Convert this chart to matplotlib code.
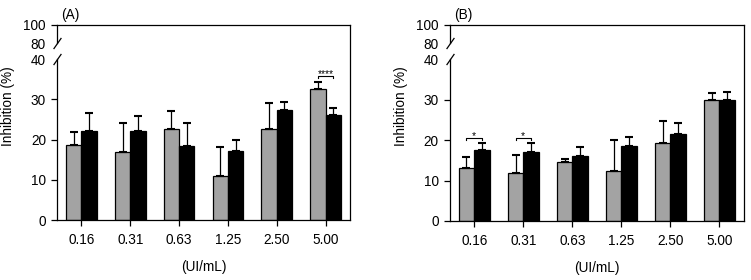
import numpy as np
import matplotlib
matplotlib.use("Agg")
import matplotlib.pyplot as plt
from matplotlib.scale import FuncScale
import matplotlib.transforms as mtransforms

plt.rcParams['font.family'] = ['Liberation Sans', 'DejaVu Sans']

categories = ["0.16", "0.31", "0.63", "1.25", "2.50", "5.00"]

# Panel A
a_gray = [18.7, 16.8, 22.7, 10.9, 22.5, 32.6]
a_gray_err = [3.2, 7.3, 4.3, 7.3, 6.5, 1.7]
a_black = [22.1, 22.1, 18.4, 17.1, 27.3, 26.2]
a_black_err = [4.6, 3.8, 5.8, 2.8, 2.1, 1.7]

# Panel B
b_gray = [13.1, 11.9, 14.6, 12.4, 19.2, 30.0]
b_gray_err = [2.7, 4.3, 0.8, 7.6, 5.4, 1.6]
b_black = [17.5, 17.1, 16.0, 18.5, 21.5, 30.0]
b_black_err = [1.7, 2.1, 2.4, 2.2, 2.7, 2.0]

yticks = [0, 10, 20, 30, 40, 80, 100]
ytick_labels = ["0", "10", "20", "30", "40", "80", "100"]

# piecewise (broken) y scale
brk_in = [0, 40, 80, 100]
brk_out = [0, 40, 43.9, 48.45]

def fwd(y):
    y = np.asarray(y, dtype=float)
    return np.interp(y, brk_in, brk_out, left=-1e3, right=1e3)

def inv(y):
    y = np.asarray(y, dtype=float)
    return np.interp(y, brk_out, brk_in, left=-1e3, right=1e3)

GRAY = "#a3a3a3"
FS = 9.8

fig = plt.figure(figsize=(7.51, 2.8), dpi=100)

def panel(rect, gray, gerr, black, berr, title, sig):
    ax = fig.add_axes(rect)
    ax.set_yscale(FuncScale(ax, (fwd, inv)))
    x = np.arange(len(categories))
    w = 0.315
    n = len(categories)
    ekw = dict(ecolor="black", elinewidth=0.9, capsize=2.6, capthick=1.5)
    ax.bar(x - w / 2, gray, w, color=GRAY, edgecolor="black", linewidth=0.9,
           yerr=[[0] * n, gerr], error_kw=ekw, zorder=2)
    ax.bar(x + w / 2, black, w, color="black", edgecolor="black", linewidth=0.9,
           yerr=[[0] * n, berr], error_kw=ekw, zorder=2)
    ax.set_xlim(-0.5, n - 0.5)
    ax.set_ylim(0, 100)
    ax.set_yticks(yticks)
    ax.set_yticklabels(ytick_labels)
    ax.set_xticks(x)
    ax.set_xticklabels(categories)
    ax.tick_params(axis='both', direction='out', length=4.5, width=0.9, labelsize=FS, pad=3.5)
    ax.tick_params(axis='x', pad=5)
    for t in ax.yaxis.get_major_ticks():
        if t.get_loc() in (40, 80):
            t.tick1line.set_visible(False)
    for s in ['top', 'right', 'bottom']:
        ax.spines[s].set_linewidth(0.9)
    ax.spines['left'].set_visible(False)
    trans = mtransforms.blended_transform_factory(ax.transAxes, ax.transData)
    ax.plot([0, 0], [0, 40], transform=trans, color="black", lw=0.9, clip_on=False)
    ax.plot([0, 0], [80, 100], transform=trans, color="black", lw=0.9, clip_on=False)
    slash = [(-0.7, -1), (0.7, 1)]
    for yy in (40, 80):
        ax.plot([0], [yy], transform=trans, marker=slash, markersize=8,
                markeredgewidth=0.9, color="black", clip_on=False, linestyle='none')
    ax.set_ylabel("Inhibition (%)", fontsize=FS)
    ax.yaxis.set_label_coords(-42 / (rect[2] * 751), 0.585)
    ax.set_xlabel("(UI/mL)", fontsize=FS, labelpad=9)
    ax.text(0.015, 1.015, title, transform=ax.transAxes, fontsize=FS, ha='left', va='bottom')
    for (i, ylev, label) in sig:
        x0, x1 = i - w / 2, i + w / 2
        ax.plot([x0, x0, x1, x1], [ylev - 0.5, ylev, ylev, ylev - 0.5], color="black", lw=0.8)
        ax.text(i, ylev - 0.9, label, ha='center', va='bottom', fontsize=7.4)
    return ax

panel([57 / 751, 60 / 280, 293 / 751, 195 / 280], a_gray, a_gray_err, a_black, a_black_err,
      "(A)", [(5, 35.8, "****")])
panel([449.7 / 751, 59 / 280, 294.3 / 751, 196 / 280], b_gray, b_gray_err, b_black, b_black_err,
      "(B)", [(0, 20.6, "*"), (1, 20.6, "*")])

fig.savefig("out.png", dpi=100)
